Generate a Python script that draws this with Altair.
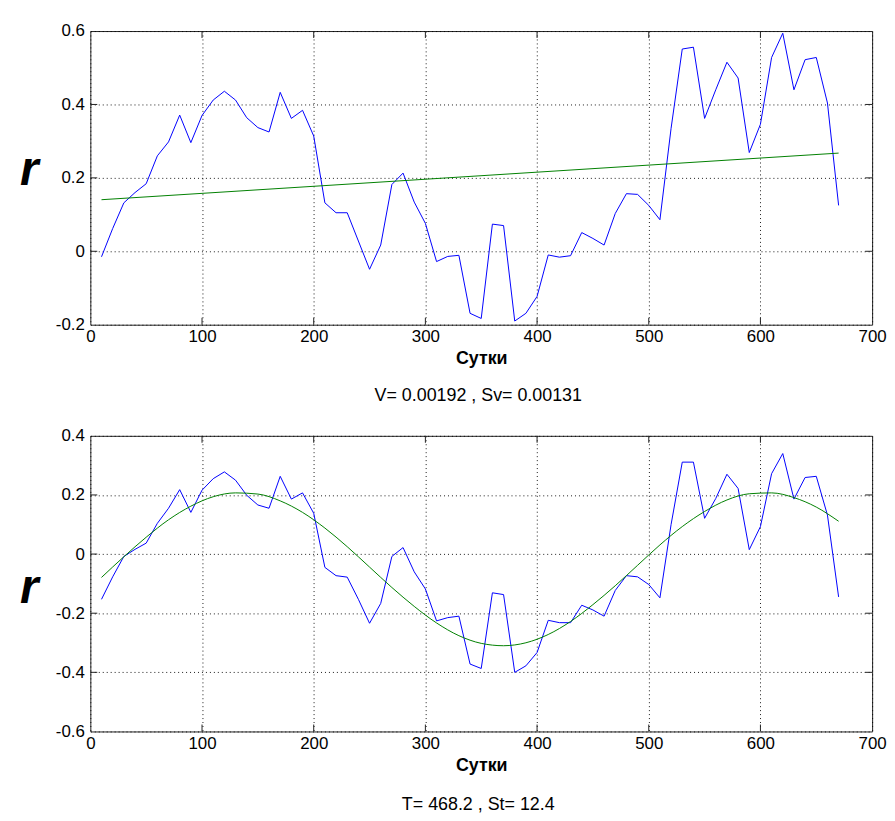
import altair as alt
import pandas as pd

# ---------------- data ----------------
days = list(range(10, 680, 10))

r_raw = [
    -0.015, 0.062, 0.132, 0.160, 0.184, 0.260, 0.298, 0.371, 0.296, 0.370,
    0.412, 0.436, 0.412, 0.364, 0.337, 0.325, 0.433, 0.362, 0.384, 0.314,
    0.132, 0.105, 0.105, 0.028, -0.049, 0.017, 0.182, 0.213, 0.134, 0.076,
    -0.028, -0.014, -0.011, -0.169, -0.183, 0.074, 0.070, -0.190, -0.169, -0.123,
    -0.010, -0.016, -0.012, 0.051, 0.035, 0.017, 0.103, 0.157, 0.155, 0.125,
    0.086, 0.335, 0.551, 0.556, 0.362, 0.440, 0.515, 0.472, 0.269, 0.346,
    0.528, 0.594, 0.440, 0.522, 0.528, 0.404, 0.125,
]

r_detrended = [
    -0.153, -0.077, -0.008, 0.016, 0.037, 0.104, 0.155, 0.218, 0.141, 0.216,
    0.255, 0.278, 0.250, 0.199, 0.166, 0.155, 0.263, 0.186, 0.207, 0.138,
    -0.045, -0.073, -0.078, -0.153, -0.234, -0.167, -0.008, 0.022, -0.060, -0.118,
    -0.226, -0.215, -0.210, -0.372, -0.387, -0.131, -0.137, -0.400, -0.378, -0.333,
    -0.224, -0.232, -0.232, -0.173, -0.189, -0.210, -0.123, -0.073, -0.077, -0.103,
    -0.148, 0.100, 0.311, 0.311, 0.121, 0.188, 0.270, 0.222, 0.015, 0.093,
    0.272, 0.340, 0.186, 0.259, 0.263, 0.132, -0.145,
]

trend_days = [10, 670]
trend_r = [0.1405, 0.2675]

fit_days = list(range(10, 680, 20))
fit_r = [
    -0.079, -0.009, 0.057, 0.116, 0.162, 0.194, 0.207, 0.203, 0.180, 0.141,
    0.088, 0.025, -0.044, -0.113, -0.177, -0.233, -0.276, -0.302, -0.310, -0.300,
    -0.272, -0.228, -0.171, -0.107, -0.038, 0.031, 0.093, 0.144, 0.183, 0.204,
    0.207, 0.191, 0.159, 0.111,
]

x_ticks = [0, 100, 200, 300, 400, 500, 600, 700]
top_y_ticks = [-0.2, 0, 0.2, 0.4, 0.6]
bot_y_ticks = [-0.6, -0.4, -0.2, 0, 0.2, 0.4]
top_note = "V= 0.00192 , Sv= 0.00131"
bot_note = "T= 468.2 , St= 12.4"
x_title = "Сутки"
y_title = "r"

# ---------------- styling ----------------
FONT = "Liberation Sans"
FRAME = "#222222"
W = 788
TICK = 7


def panel(line_days, line_vals, fit_x, fit_y, ydom, yticks, H, note, note_y, r_y):
    xs = alt.Scale(domain=[0, 700], nice=False, zero=False)
    ys = alt.Scale(domain=ydom, nice=False, zero=False)
    xaxis = alt.Axis(
        values=x_ticks, grid=True, gridDash=[1, 3], gridColor="#000000",
        gridOpacity=0.9, gridWidth=1, ticks=False, domain=False,
        labelFont=FONT, labelFontSize=17, labelColor="#000000", labelPadding=4,
        labelFlush=False,
        title=x_title, titleFont=FONT, titleFontSize=18, titleFontWeight="bold",
        titleColor="#000000", titleY=39, titleBaseline="alphabetic",
    )
    yaxis = alt.Axis(
        values=yticks, grid=True, gridDash=[1, 3], gridColor="#000000",
        gridOpacity=0.9, gridWidth=1, ticks=False, domain=False,
        labelFont=FONT, labelFontSize=17, labelColor="#000000", labelPadding=6,
        labelFlush=False,
        labelExpr="datum.value == 0 ? '0' : toString(round(datum.value*10)/10)",
        title=y_title, titleAngle=0, titleX=-62, titleY=r_y,
        titleFont=FONT, titleFontSize=48, titleFontWeight="bold",
        titleFontStyle="italic", titleColor="#000000", titleAlign="center",
        titleBaseline="alphabetic",
    )

    df_line = pd.DataFrame({"day": line_days, "r": line_vals})
    df_fit = pd.DataFrame({"day": fit_x, "r": fit_y})
    df_xt = pd.DataFrame({"day": x_ticks[1:-1]})
    df_yt = pd.DataFrame({"r": yticks[1:-1]})
    df_note = pd.DataFrame({"s": [note]})

    X = alt.X("day:Q", scale=xs, axis=xaxis)
    Y = alt.Y("r:Q", scale=ys, axis=yaxis)

    blue = alt.Chart(df_line).mark_line(color="#0000ff", strokeWidth=1).encode(x=X, y=Y)
    green = alt.Chart(df_fit).mark_line(
        color="#008000", strokeWidth=1, interpolate="monotone"
    ).encode(x=X, y=Y)
    xt_top = alt.Chart(df_xt).mark_rule(color=FRAME).encode(
        x=X, y=alt.value(0), y2=alt.value(TICK)
    )
    xt_bot = alt.Chart(df_xt).mark_rule(color=FRAME).encode(
        x=X, y=alt.value(H - TICK), y2=alt.value(H)
    )
    yt_left = alt.Chart(df_yt).mark_rule(color=FRAME).encode(
        y=Y, x=alt.value(0), x2=alt.value(TICK)
    )
    yt_right = alt.Chart(df_yt).mark_rule(color=FRAME).encode(
        y=Y, x=alt.value(W - TICK), x2=alt.value(W)
    )
    txt = alt.Chart(df_note).mark_text(
        font=FONT, fontSize=18, color="#000000", align="center", baseline="alphabetic"
    ).encode(text="s:N", x=alt.value(W / 2 - 3), y=alt.value(H + note_y))

    return alt.layer(blue, green, xt_top, xt_bot, yt_left, yt_right, txt).properties(
        width=W, height=H
    )


top = panel(days, r_raw, trend_days, trend_r, [-0.2, 0.6], top_y_ticks, 296, top_note, 77, 155)
bottom = panel(days, r_detrended, fit_days, fit_r, [-0.6, 0.4], bot_y_ticks, 298, bot_note, 79, 168)

chart = (
    alt.vconcat(top, bottom, spacing=20)
    .properties(padding={"left": 11, "top": 10, "right": 0, "bottom": 0}, background="white")
    .configure_view(stroke=FRAME, strokeWidth=1)
)

chart.save("out.html", embed_options={"renderer": "svg", "actions": False})
